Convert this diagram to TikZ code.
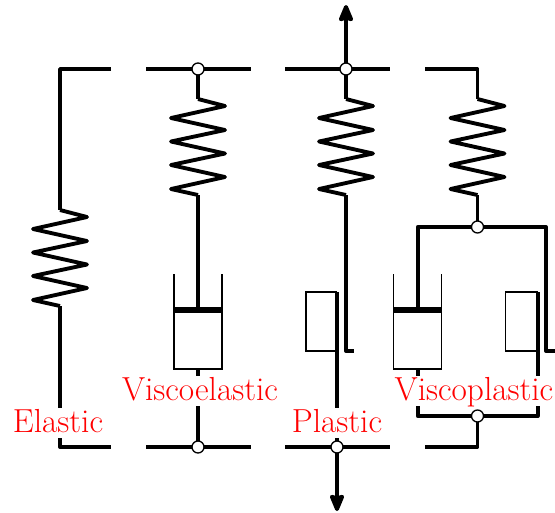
\documentclass[tikz,border=0pt]{standalone}
\usetikzlibrary{arrows.meta}
\tikzset{
  x=0.75pt,y=-0.75pt,
  wire/.style={line width=2.9pt,line join=round,line cap=butt},
  thinline/.style={line width=1.1pt,line join=miter},
  bar/.style={line width=5pt},
  joint/.style={circle,draw,fill=white,line width=1pt,inner sep=0pt,minimum size=9pt},
  lab/.style={text=red,anchor=base,inner sep=0pt,font=\fontsize{25}{28}\selectfont},
  headed/.style={wire,-{Stealth[length=15pt,width=12pt,inset=1.5pt,round]}}
}
% #1 x of the axis, #2 top y, #3 spring name prefix
\newcommand{\springpath}[3]{%
  \coordinate (#3t) at (#1,#2);
  \coordinate (#3b) at (#1,#2+96);
  \draw[wire] (#3t)
    -- ++(27,7) -- ++(-54,12) -- ++(54,12) -- ++(-54,11.5) -- ++(54,12)
    -- ++(-54,11.5) -- ++(54,12) -- ++(-54,12) -- (#3b);
}
\newcommand{\dashpot}[2]{% centre x, name
  \coordinate (#2r) at (#1,309);
  \coordinate (#2o) at (#1,369);
  \draw[thinline] (#1-24,274) -- (#1-24,369) -- (#1+24,369) -- (#1+24,274);
  \draw[bar] (#1-24,310) -- (#1+24,310);
}
\begin{document}
\begin{tikzpicture}
\useasboundingbox (0,0) rectangle (555,512);
% Elastic
\springpath{60}{210}{a}
\coordinate (e1) at (111,69); \coordinate (e2) at (60,69);
\coordinate (e3) at (60,408); \coordinate (e4) at (60,438);
\coordinate (e5) at (60,447); \coordinate (e6) at (111,447);
\draw[wire] (e1) -- (e2) -- (at);
\draw[wire] (ab) -- (e3);
\draw[wire] (e4) -- (e5) -- (e6);
% Viscoelastic
\springpath{198}{99}{b}
\dashpot{198}{bd}
\coordinate (v1) at (146,69); \coordinate (v2) at (251,69);
\coordinate (v3) at (146,447); \coordinate (v4) at (251,447);
\coordinate (v5) at (198,376); \coordinate (v6) at (198,406);
\draw[wire] (v1) -- (v2);
\draw[wire] (v3) -- (v4);
\draw[wire] (198,69) -- (bt);
\draw[wire] (bb) -- (bdr);
\draw[wire] (bdo) -- (v5);
\draw[wire] (v6) -- (198,447);
\node[joint] (bj1) at (198,69) {};
\node[joint] (bj2) at (198,447) {};
% Plastic
\springpath{346}{99}{c}
\coordinate (p1) at (285,69); \coordinate (p2) at (390,69);
\coordinate (p3) at (285,447); \coordinate (p4) at (390,447);
\coordinate (pu) at (346,5); \coordinate (pd) at (337,511);
\coordinate (p5) at (346,351); \coordinate (p6) at (354,351);
\coordinate (p7) at (337,292); \coordinate (p8) at (337,408);
\coordinate (p9) at (337,438);
\draw[wire] (p1) -- (p2);
\draw[wire] (p3) -- (p4);
\draw[headed] (346,69) -- (pu);
\draw[wire] (346,69) -- (ct);
\draw[wire] (cb) -- (p5) -- (p6);
\draw[thinline] (p7) -- (306,292) -- (306,351) -- (337,351);
\draw[wire] (p7) -- (p8);
\draw[wire] (p9) -- (337,447);
\draw[headed] (337,447) -- (pd);
\node[joint] (cj1) at (346,69) {};
\node[joint] (cj2) at (337,447) {};
% Viscoplastic
\springpath{477.5}{99}{d}
\dashpot{417.7}{dd}
\coordinate (q1) at (425,69); \coordinate (q2) at (477.5,69);
\coordinate (q3) at (417.7,227); \coordinate (q4) at (546,227);
\coordinate (q5) at (546,351); \coordinate (q6) at (555,351);
\coordinate (q7) at (537.7,292); \coordinate (q8) at (537.7,376);
\coordinate (q9) at (417.7,376); \coordinate (q10) at (417.7,406);
\coordinate (q11) at (417.7,416); \coordinate (q12) at (537.7,416);
\coordinate (q13) at (537.7,406); \coordinate (q14) at (477.5,447);
\coordinate (q15) at (425,447);
\draw[wire] (q1) -- (q2) -- (dt);
\draw[wire] (db) -- (477.5,227);
\draw[wire] (ddr) -- (q3) -- (q4) -- (q5) -- (q6);
\draw[wire] (ddo) -- (q9);
\draw[thinline] (q7) -- (505.7,292) -- (505.7,351) -- (537.7,351);
\draw[wire] (q7) -- (q8);
\draw[wire] (q10) -- (q11) -- (q12) -- (q13);
\draw[wire] (477.5,416) -- (q14) -- (q15);
\node[joint] (dj1) at (477.5,227) {};
\node[joint] (dj2) at (477.5,416) {};
% Labels
\node[lab] (l1) at (58,432) {Elastic};
\node[lab] (l2) at (200,400) {Viscoelastic};
\node[lab] (l3) at (337,432) {Plastic};
\node[lab] (l4) at (474,400) {Viscoplastic};
\end{tikzpicture}
\end{document}
